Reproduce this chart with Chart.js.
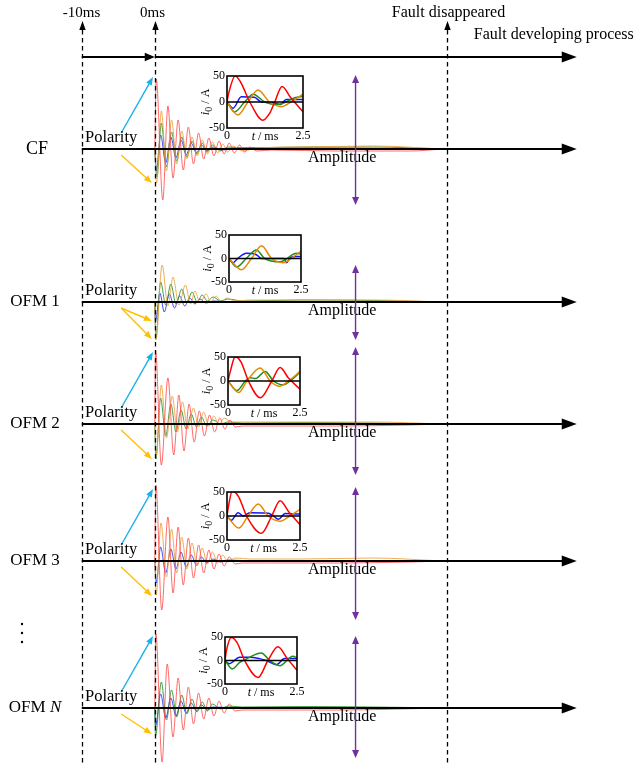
<!DOCTYPE html>
<html>
<head>
<meta charset="utf-8">
<script src="https://cdn.jsdelivr.net/npm/chart.js@4.4.1/dist/chart.umd.min.js"></script>
<style>
  html, body { margin: 0; padding: 0; background: #fff; }
  #wrap { position: relative; width: 641px; height: 764px; overflow: hidden; background: #fff; }
  #wrap canvas { position: absolute; }
</style>
</head>
<body>
<div id="wrap"><canvas id="main" width="641" height="764" style="left:0;top:0"></canvas></div>
<script>
// ---- timeline ----
const timeMarks = [-10, 0, 40];                       // ms
const timeMarkLabels = ['-10ms', '0ms', 'Fault disappeared'];
const rowNames = ['CF', 'OFM 1', 'OFM 2', 'OFM 3', 'OFM N'];

// ---- zero-sequence current transients, [t (ms), amplitude (a.u.)] extrema ----
const cfRed    = [[0,0],[0.2,70],[1.1,-51],[1.8,43],[2.5,-29],[3.2,29],[3.9,-21],[4.6,22],[5.3,-15],[6.0,16],[6.7,-10],[7.4,11],[8.1,-7],[8.8,8],[9.5,-5],[10.2,6],[10.9,-4],[11.6,4],[12.3,-3],[13,2],[14,-2],[16,-1],[25,-2],[35,-2],[39.5,0]];
const cfOrange = [[0,0],[0.25,-34],[0.9,38],[1.6,-22],[2.3,29],[3.0,-15],[3.7,18],[4.4,-10],[5.1,12],[5.8,-7],[6.5,9],[7.2,-5],[7.9,7],[8.6,-4],[9.3,5],[10,-3],[10.7,3],[12,-2],[14,1],[20,2],[30,3],[39.5,0]];
const cfGreen  = [[0,0],[0.3,-28],[0.9,26],[1.6,-18],[2.3,17],[3.0,-12],[3.7,12],[4.4,-8],[5.1,8],[5.8,-5],[6.5,6],[7.2,-3],[7.9,4],[9,-2],[10,2],[12,1],[20,2],[30,2],[39.5,0]];
const cfBlue   = [[0,0],[0.2,-22],[0.8,14],[1.5,-14],[2.2,12],[2.9,-9],[3.6,9],[4.3,-6],[5,6],[5.7,-4],[6.4,4],[7.1,-2],[8,2],[9,-1],[12,1],[20,1],[39.5,0]];

const ofm1Orange = [[0,0],[0.15,-38],[1.0,37],[1.8,-4],[2.5,25],[3.3,-3],[4.2,17],[4.9,-2],[5.5,11],[6.2,-1],[7.0,8],[7.7,0],[8.4,6],[9.1,0],[9.8,4],[11,1],[13,2],[20,2],[30,2],[39.5,0]];
const ofm1Green  = [[0,0],[0.15,-36],[0.8,20],[1.5,-3],[2.2,18],[2.9,-2],[3.7,13],[4.4,-1],[5.1,10],[5.8,0],[6.5,7],[7.2,1],[8,5],[9,1],[10,3],[12,1],[20,2],[30,1.5],[39.5,0]];
const ofm1Blue   = [[0,0],[0.1,-19],[0.7,9],[1.3,-10],[2.0,8],[2.7,-6],[3.4,6],[4.1,-4],[4.8,4],[5.5,-2],[6.2,3],[7,-1],[8,1],[10,0.5],[39.5,0]];

const ofm2Red    = [[0,0],[0.1,74],[0.9,-41],[1.8,46],[2.6,-31],[3.3,29],[4.0,-27],[4.7,20],[5.4,-18],[6.1,13],[6.8,-12],[7.5,9],[8.2,-8],[8.9,6],[9.6,-5],[10.3,4],[11,-3],[12,-2],[14,-2],[25,-2],[35,-1],[39.5,0]];
const ofm2Orange = [[0,0],[0.2,-32],[0.9,39],[1.6,-14],[2.4,28],[3.1,-8],[3.8,22],[4.5,-5],[5.3,16],[6,-3],[6.7,12],[7.4,-2],[8.1,8],[8.8,-1],[9.5,6],[10.5,2],[12,2],[20,2],[30,2],[39.5,0]];
const ofm2Green  = [[0,0],[0.15,-35],[0.8,26],[1.5,-12],[2.2,20],[2.9,-8],[3.6,14],[4.3,-5],[5,10],[5.7,-3],[6.4,7],[7.1,-2],[8,4],[9,0],[10,2],[12,1],[20,1.5],[39.5,0]];

const ofm3Red    = [[0,0],[0.15,76],[0.95,-49],[1.8,44],[2.5,-32],[3.2,34],[3.9,-24],[4.6,23],[5.3,-17],[6,16],[6.7,-12],[7.4,11],[8.1,-8],[8.8,7],[9.5,-5],[10.2,4],[11,-3],[12,-2],[15,-2],[25,-2],[35,-1],[39.5,0]];
const ofm3Orange = [[0,0],[0.2,-34],[0.85,38],[1.6,-16],[2.3,32],[3,-12],[3.7,24],[4.4,-8],[5.1,18],[5.8,-5],[6.5,13],[7.2,-3],[7.9,9],[8.6,-2],[9.3,6],[10,-1],[11,3],[13,2],[20,2],[30,3],[39.5,0]];
const ofm3Blue   = [[0,0],[0.2,-22],[0.8,14],[1.5,-12],[2.2,12],[2.9,-8],[3.6,9],[4.3,-6],[5,6],[5.7,-4],[6.4,4],[7.1,-2],[8,2],[9,-1],[10,1],[12,0.5],[39.5,0]];

const ofmNRed    = [[0,0],[0.15,74],[1.0,-54],[1.7,44],[2.5,-29],[3.2,30],[3.9,-22],[4.6,21],[5.3,-16],[6,15],[6.7,-11],[7.4,10],[8.1,-8],[8.8,7],[9.5,-5],[10.2,4],[11,-3],[12,-2],[15,-2],[25,-2],[39.5,0]];
const ofmNGreen  = [[0,0],[0.1,-28],[0.9,26],[1.6,-12],[2.3,18],[3,-9],[3.7,13],[4.4,-6],[5.1,9],[5.8,-4],[6.5,6],[7.2,-3],[7.9,4],[9,-1],[10,2],[12,1],[20,1.5],[30,1],[39.5,0]];
const ofmNBlue   = [[0,0],[0.1,-18],[0.8,14],[1.5,-10],[2.2,10],[2.9,-8],[3.6,7],[4.3,-5],[5,5],[5.7,-3],[6.4,3],[7.2,-2],[8,1],[10,0.5],[39.5,0]];

// ---- first 2.5 ms of i0, [t (ms), i0 (A)] ----
const insetCfRed    = [[0,0],[0.06,18],[0.27,50],[0.45,38],[0.75,0],[1.18,-35],[1.4,-22],[1.57,0],[1.81,30],[2.1,8],[2.5,-19]];
const insetCfOrange = [[0,0],[0.36,-25],[0.69,0],[1.02,23],[1.4,0],[1.79,-9],[2.1,0],[2.5,15]];
const insetCfGreen  = [[0,0],[0.25,-19],[0.58,0],[0.86,15],[1.24,0],[1.68,-5],[2.23,8],[2.5,11]];
const insetCfBlue   = [[0,0],[0.2,-12],[0.47,10],[0.9,9],[1.13,0],[1.5,-1],[1.75,-5],[1.95,5],[2.5,5]];

const inset1Orange = [[0,0],[0.43,-24],[0.78,0],[1.13,27],[1.48,0],[1.88,-9],[2.2,2],[2.5,16]];
const inset1Green  = [[0,0],[0.26,-18],[0.6,0],[0.95,18],[1.24,0],[1.77,-7],[2.35,11],[2.5,9]];
const inset1Blue   = [[0,0],[0.14,-9],[0.3,0],[0.6,11],[0.95,8],[1.13,0],[1.9,0],[2.0,-9],[2.1,0],[2.3,4],[2.5,4]];

const inset2Red    = [[0,0],[0.08,20],[0.25,51],[0.45,40],[0.71,0],[1.12,-35],[1.52,0],[1.81,28],[2.1,6],[2.5,-17]];
const inset2Orange = [[0,0],[0.37,-24],[0.66,0],[1.12,27],[1.46,0],[1.79,-11],[2.1,0],[2.5,20]];
const inset2Green  = [[0,0],[0.31,-20],[0.6,0],[0.77,7],[0.95,5],[1.29,20],[1.58,0],[1.92,-8],[2.2,2],[2.5,18]];

const inset3Red    = [[0,0],[0.05,20],[0.18,52],[0.4,40],[0.67,0],[1.18,-36],[1.53,0],[1.82,32],[2.1,10],[2.5,-18]];
const inset3Orange = [[0,0],[0.4,-25],[0.72,0],[1.07,25],[1.41,0],[1.82,-11],[2.15,0],[2.5,14]];
const inset3Blue   = [[0,0],[0.15,-9],[0.38,7],[0.55,0],[0.78,7],[1.35,6],[1.55,2],[1.76,-7],[1.99,5],[2.5,4]];

const insetNRed    = [[0,0],[0.05,21],[0.22,49],[0.42,38],[0.68,0],[1.15,-36],[1.49,0],[1.84,29],[2.15,5],[2.5,-21]];
const insetNGreen  = [[0,0],[0.25,-18],[0.51,-4],[0.7,2],[1.26,16],[1.55,0],[1.9,-11],[2.36,9],[2.5,6]];
const insetNBlue   = [[0,0],[0.14,-7],[0.51,7],[0.86,7],[1.2,4],[1.44,0],[1.78,-9],[2.07,4],[2.5,4]];

const insetYTicks = [50, 0, -50];
const insetXTicks = [0, 2.5];

// ---- styling ----
const SERIF = '"Liberation Serif", "Times New Roman", Times, serif';
const waveColors  = { red: 'rgba(255,70,70,0.8)', orange: 'rgba(236,160,60,0.85)', green: 'rgba(40,140,40,0.85)', blue: 'rgba(30,50,235,0.85)' };
const insetColors = { red: '#ff0000', orange: '#e58a00', green: '#1e8c1e', blue: '#1414ff' };
const CYAN = '#1ab0e8', GOLD = '#ffc000', PURPLE = '#7030a0';

// layout of each row (pixel baseline, inset box, arrow extents)
const rows = [
  { base: 149, waves: [[cfRed,'red'],[cfOrange,'orange'],[cfGreen,'green'],[cfBlue,'blue']],
    inset: { l: 227, t: 76, r: 303, b: 128 }, insetWaves: [[insetCfRed,'red'],[insetCfOrange,'orange'],[insetCfGreen,'green'],[insetCfBlue,'blue']],
    cyan: true, gold: [34], purple: [-74, 56] },
  { base: 302, waves: [[ofm1Orange,'orange'],[ofm1Green,'green'],[ofm1Blue,'blue']],
    inset: { l: 229, t: 235, r: 301, b: 282 }, insetWaves: [[inset1Orange,'orange'],[inset1Green,'green'],[inset1Blue,'blue']],
    cyan: false, gold: [19, 37], purple: [-37, 38] },
  { base: 424, waves: [[ofm2Red,'red'],[ofm2Orange,'orange'],[ofm2Green,'green']],
    inset: { l: 228, t: 357, r: 300, b: 405 }, insetWaves: [[inset2Red,'red'],[inset2Orange,'orange'],[inset2Green,'green']],
    cyan: true, gold: [35], purple: [-77, 51] },
  { base: 561, waves: [[ofm3Red,'red'],[ofm3Orange,'orange'],[ofm3Blue,'blue']],
    inset: { l: 227, t: 492, r: 300, b: 540 }, insetWaves: [[inset3Red,'red'],[inset3Orange,'orange'],[inset3Blue,'blue']],
    cyan: true, gold: [35], purple: [-74, 59] },
  { base: 708, waves: [[ofmNRed,'red'],[ofmNGreen,'green'],[ofmNBlue,'blue']],
    inset: { l: 225, t: 637, r: 297, b: 684 }, insetWaves: [[insetNRed,'red'],[insetNGreen,'green'],[insetNBlue,'blue']],
    cyan: true, gold: [26], purple: [-72, 50] }
];

const AXIS_END_MS = 57.8;     // tip of the horizontal arrows
const PURPLE_MS = 27.5;       // position of the amplitude markers
const POL_FROM_MS = -4.6;     // tail of the polarity arrows
const POL_TO_MS = -0.25;

// ---- drawing helpers ----
function arrowHead(ctx, x1, y1, x2, y2, len, half, color) {
  const a = Math.atan2(y2 - y1, x2 - x1);
  ctx.save();
  ctx.fillStyle = color;
  ctx.beginPath();
  ctx.moveTo(x2, y2);
  ctx.lineTo(x2 - len * Math.cos(a) + half * Math.sin(a), y2 - len * Math.sin(a) - half * Math.cos(a));
  ctx.lineTo(x2 - len * Math.cos(a) - half * Math.sin(a), y2 - len * Math.sin(a) + half * Math.cos(a));
  ctx.closePath();
  ctx.fill();
  ctx.restore();
}
function arrow(ctx, x1, y1, x2, y2, color, width, len, half) {
  const a = Math.atan2(y2 - y1, x2 - x1);
  ctx.save();
  ctx.strokeStyle = color;
  ctx.lineWidth = width;
  ctx.beginPath();
  ctx.moveTo(x1, y1);
  ctx.lineTo(x2 - (len * 0.8) * Math.cos(a), y2 - (len * 0.8) * Math.sin(a));
  ctx.stroke();
  ctx.restore();
  arrowHead(ctx, x1, y1, x2, y2, len, half, color);
}
// text built from runs of differing fonts
function runs(ctx, parts, x, y, align) {
  let total = 0;
  parts.forEach(p => { ctx.font = p.font; total += ctx.measureText(p.text).width; });
  let cx = align === 'center' ? x - total / 2 : align === 'right' ? x - total : x;
  ctx.textAlign = 'left';
  parts.forEach(p => {
    ctx.font = p.font;
    ctx.fillText(p.text, cx, y + (p.dy || 0));
    cx += ctx.measureText(p.text).width;
  });
}

// ---- main diagram ----
const datasets = [];
rows.forEach(row => {
  row.waves.forEach(([pts, c]) => {
    datasets.push({
      data: pts.map(([t, a]) => ({ x: t, y: row.base - a })),
      borderColor: waveColors[c],
      borderWidth: 1,
      pointRadius: 0,
      fill: false,
      cubicInterpolationMode: 'monotone'
    });
  });
});

const markLabelStyle = [
  { font: '15px ', dx: -1 },
  { font: '15px ', dx: -3 },
  { font: '16px ', dx: 1 }
];

const diagramPlugin = {
  id: 'diagram',
  afterDatasetsDraw(chart) {
    const ctx = chart.ctx;
    const xs = chart.scales.x, ys = chart.scales.y;
    const X = v => xs.getPixelForValue(v);
    const Y = v => ys.getPixelForValue(v);
    const x0 = X(-10), xEnd = X(AXIS_END_MS);
    ctx.save();

    // dashed event lines with small up arrows
    timeMarks.forEach((m, i) => {
      const x = Math.round(X(m)) + 0.5;
      ctx.strokeStyle = '#000';
      ctx.lineWidth = 1.3;
      ctx.setLineDash([4.5, 3.5]);
      ctx.beginPath();
      ctx.moveTo(x, Y(30));
      ctx.lineTo(x, Y(764));
      ctx.stroke();
      ctx.setLineDash([]);
      arrowHead(ctx, x, Y(31), x, Y(21), 9, 3.2, '#000');
      ctx.fillStyle = '#000';
      ctx.font = markLabelStyle[i].font + SERIF;
      ctx.textAlign = 'center';
      ctx.textBaseline = 'middle';
      ctx.fillText(timeMarkLabels[i], x + markLabelStyle[i].dx, Y(13));
    });
    ctx.textAlign = 'left';
    ctx.font = '16px ' + SERIF;
    ctx.fillText('Fault developing process', X(43.7), Y(35));

    // process arrow
    const yp = Y(57);
    arrow(ctx, x0, yp, X(0), yp, '#000', 2, 10, 4.2);
    arrow(ctx, X(0), yp, xEnd, yp, '#000', 2, 15, 5.5);

    rows.forEach((row, ri) => {
      const yb = Y(row.base);
      // time axis of the row
      arrow(ctx, x0, yb, xEnd, yb, '#000', 2, 15, 5.5);

      // row name
      ctx.fillStyle = '#000';
      ctx.textBaseline = 'middle';
      if (ri === 4) {
        runs(ctx, [{ text: 'OFM ', font: '17px ' + SERIF }, { text: 'N', font: 'italic 17px ' + SERIF }], 35, yb, 'center');
      } else {
        ctx.font = (ri === 0 ? '18px ' : '17px ') + SERIF;
        ctx.textAlign = 'center';
        ctx.fillText(rowNames[ri], ri === 0 ? 37 : 35, yb);
      }

      // polarity arrows and label
      if (row.cyan) arrow(ctx, X(POL_FROM_MS), Y(row.base - 16), X(POL_TO_MS), Y(row.base - 72), CYAN, 1.4, 8, 3.2);
      row.gold.forEach(d => arrow(ctx, X(POL_FROM_MS), Y(row.base + 6), X(POL_TO_MS - 0.15), Y(row.base + d), GOLD, 1.4, 8, 3.2));
      ctx.font = '16.5px ' + SERIF;
      ctx.textAlign = 'left';
      ctx.fillStyle = '#000';
      ctx.fillText('Polarity', 85, Y(row.base - 11));

      // amplitude marker
      ctx.font = '16px ' + SERIF;
      ctx.fillStyle = '#000';
      ctx.fillText('Amplitude', 308, Y(row.base + 9));
      const xp = X(PURPLE_MS);
      const yt = Y(row.base + row.purple[0]), ybt = Y(row.base + row.purple[1]);
      ctx.strokeStyle = PURPLE;
      ctx.lineWidth = 1.4;
      ctx.beginPath();
      ctx.moveTo(xp, yt + 6);
      ctx.lineTo(xp, ybt - 6);
      ctx.stroke();
      arrowHead(ctx, xp, yt + 10, xp, yt, 8, 3.5, PURPLE);
      arrowHead(ctx, xp, ybt - 10, xp, ybt, 8, 3.5, PURPLE);
    });

    // vertical ellipsis between OFM 3 and OFM N
    ctx.fillStyle = '#000';
    [624, 633, 642].forEach(y => { ctx.beginPath(); ctx.arc(22, Y(y), 1.2, 0, Math.PI * 2); ctx.fill(); });
    ctx.restore();
  }
};

new Chart(document.getElementById('main'), {
  type: 'line',
  data: { datasets },
  options: {
    responsive: false,
    animation: false,
    events: [],
    layout: { padding: 0 },
    plugins: { legend: { display: false }, tooltip: { enabled: false } },
    scales: {
      x: { type: 'linear', min: -21.2, max: 66.6, display: false },
      y: { type: 'linear', min: 0, max: 764, reverse: true, display: false }
    }
  },
  plugins: [diagramPlugin]
});

// ---- inset charts ----
const PAD = { left: 40, top: 8, right: 12, bottom: 24 };
const insetPlugin = {
  id: 'insetFrame',
  beforeDatasetsDraw(chart) {
    const { ctx, chartArea: a } = chart;
    ctx.save();
    ctx.fillStyle = '#fff';
    ctx.fillRect(a.left, a.top, a.right - a.left, a.bottom - a.top);
    ctx.restore();
  },
  afterDatasetsDraw(chart) {
    const { ctx, chartArea: a } = chart;
    const xs = chart.scales.x, ys = chart.scales.y;
    ctx.save();
    ctx.strokeStyle = '#000';
    ctx.lineWidth = 1.6;
    // zero line
    ctx.beginPath();
    ctx.moveTo(a.left, ys.getPixelForValue(0));
    ctx.lineTo(a.right, ys.getPixelForValue(0));
    ctx.stroke();
    // frame
    ctx.strokeRect(a.left, a.top, a.right - a.left, a.bottom - a.top);
    // y ticks
    ctx.fillStyle = '#000';
    ctx.font = '12px ' + SERIF;
    ctx.textAlign = 'right';
    ctx.textBaseline = 'middle';
    insetYTicks.forEach(v => ctx.fillText(String(v), a.left - 2, ys.getPixelForValue(v)));
    // x ticks
    ctx.textAlign = 'center';
    ctx.textBaseline = 'top';
    insetXTicks.forEach(v => ctx.fillText(String(v), xs.getPixelForValue(v), a.bottom + 2));
    // x title
    ctx.textBaseline = 'top';
    runs(ctx, [{ text: 't', font: 'italic 12px ' + SERIF }, { text: ' / ms', font: '12px ' + SERIF }], (a.left + a.right) / 2, a.bottom + 3, 'center');
    // y title (rotated)
    ctx.translate(a.left - 21, (a.top + a.bottom) / 2);
    ctx.rotate(-Math.PI / 2);
    ctx.textBaseline = 'middle';
    runs(ctx, [
      { text: 'i', font: 'italic 13px ' + SERIF },
      { text: '0', font: '10px ' + SERIF, dy: 3 },
      { text: ' / A', font: '12px ' + SERIF }
    ], 0, 0, 'center');
    ctx.restore();
  }
};

const wrap = document.getElementById('wrap');
rows.forEach(row => {
  const b = row.inset;
  const cv = document.createElement('canvas');
  const w = (b.r - b.l) + PAD.left + PAD.right;
  const h = (b.b - b.t) + PAD.top + PAD.bottom;
  cv.width = w; cv.height = h;
  cv.style.left = (b.l - PAD.left) + 'px';
  cv.style.top = (b.t - PAD.top) + 'px';
  cv.style.width = w + 'px'; cv.style.height = h + 'px';
  wrap.appendChild(cv);
  new Chart(cv, {
    type: 'line',
    data: {
      datasets: row.insetWaves.map(([pts, c]) => ({
        data: pts.map(([t, v]) => ({ x: t, y: v })),
        borderColor: insetColors[c],
        borderWidth: 1.5,
        pointRadius: 0,
        fill: false,
        cubicInterpolationMode: 'monotone'
      }))
    },
    options: {
      responsive: false,
      animation: false,
      events: [],
      devicePixelRatio: 1,
      layout: { padding: PAD },
      plugins: { legend: { display: false }, tooltip: { enabled: false } },
      scales: {
        x: { type: 'linear', min: 0, max: 2.5, display: false },
        y: { type: 'linear', min: -50, max: 50, display: false }
      }
    },
    plugins: [insetPlugin]
  });
});
</script>
</body>
</html>
